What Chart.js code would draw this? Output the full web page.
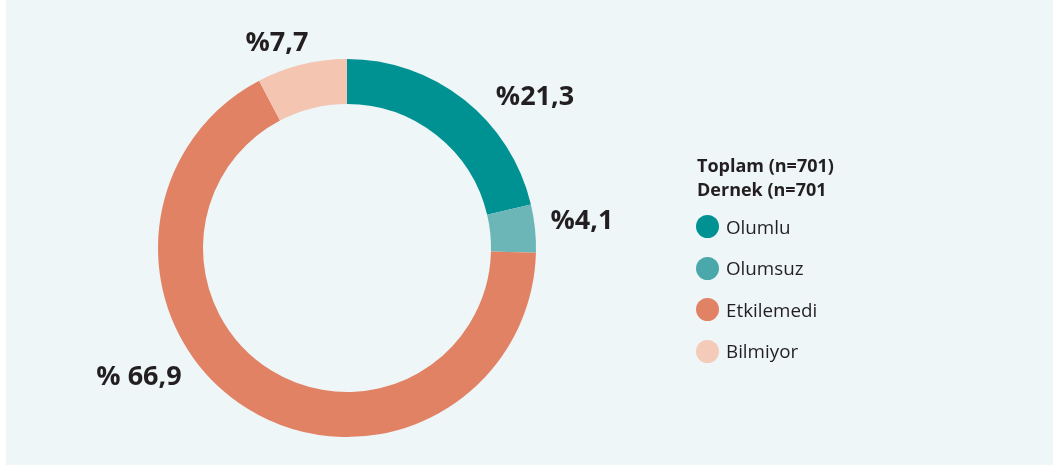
<!DOCTYPE html>
<html>
<head>
<meta charset="utf-8">
<script src="https://cdn.jsdelivr.net/npm/chart.js@4"></script>
<style>
  html, body { margin: 0; padding: 0; background: #fff; }
  #panel { position: absolute; left: 6px; top: 0; width: 1047px; height: 465px; background: #EEF6F8; }
  #wrap { position: absolute; left: 0; top: 0; width: 1053px; height: 466px; }
  #legend { position: absolute; left: 697px; top: 154.4px; font-family: 'Open Sans', sans-serif; color: #231F20; }
  #legend .title { font-weight: 700; font-size: 18px; line-height: 23.5px; white-space: nowrap; }
  #legend .item { display: flex; align-items: center; height: 41.5px; font-size: 18.8px; white-space: nowrap; }
  #legend .first { margin-top: 4.6px; }
  #legend .dot { width: 23px; height: 23px; border-radius: 50%; margin-right: 7px; margin-left: -1px; flex: none; }
</style>
</head>
<body>
<div id="panel"></div>
<div id="wrap"><canvas id="c" width="1053" height="466"></canvas></div>
<div id="legend"></div>
<script>
/* ---- data ---- */
const CATEGORIES = ['Olumlu', 'Olumsuz', 'Etkilemedi', 'Bilmiyor'];
const VALUES     = [21.3, 4.1, 66.9, 7.7];
const LABELS     = ['%21,3', '%4,1', '% 66,9', '%7,7'];
const LEGEND_TITLE = ['Toplam (n=701)', 'Dernek (n=701'];

/* ---- style ---- */
const SLICE_COLORS  = ['#009193', '#6CB6B8', '#E28264', '#F4C5B1'];
const LEGEND_COLORS = ['#009193', '#4AA8AA', '#E28264', '#F4CBB8'];
const LABEL_OFFSET  = [[188, -151], [235, -27], [-208, 129], [-70, -205]]; // from donut centre

const labelPlugin = {
  id: 'sliceLabels',
  afterDatasetsDraw(chart) {
    const ctx = chart.ctx;
    const arcs = chart.getDatasetMeta(0).data;
    ctx.save();
    ctx.font = "700 27px 'Open Sans', sans-serif";
    ctx.fillStyle = '#231F20';
    ctx.textAlign = 'center';
    ctx.textBaseline = 'middle';
    arcs.forEach((a, i) => {
      ctx.fillText(LABELS[i], a.x + LABEL_OFFSET[i][0], a.y + LABEL_OFFSET[i][1]);
    });
    ctx.restore();
  }
};

new Chart(document.getElementById('c'), {
  type: 'doughnut',
  data: {
    labels: CATEGORIES,
    datasets: [{ data: VALUES, backgroundColor: SLICE_COLORS, borderWidth: 0 }]
  },
  options: {
    responsive: false,
    animation: false,
    cutout: '76.2%',
    layout: { padding: { left: 158, right: 517, top: 59, bottom: 29 } },
    plugins: { legend: { display: false }, tooltip: { enabled: false } }
  },
  plugins: [labelPlugin]
});

/* html legend */
const lg = document.getElementById('legend');
LEGEND_TITLE.forEach(t => {
  const d = document.createElement('div'); d.className = 'title'; d.textContent = t; lg.appendChild(d);
});
CATEGORIES.forEach((c, i) => {
  const d = document.createElement('div'); d.className = 'item' + (i === 0 ? ' first' : '');
  d.innerHTML = '<span class="dot" style="background:' + LEGEND_COLORS[i] + '"></span>' + c;
  lg.appendChild(d);
});
</script>
</body>
</html>
